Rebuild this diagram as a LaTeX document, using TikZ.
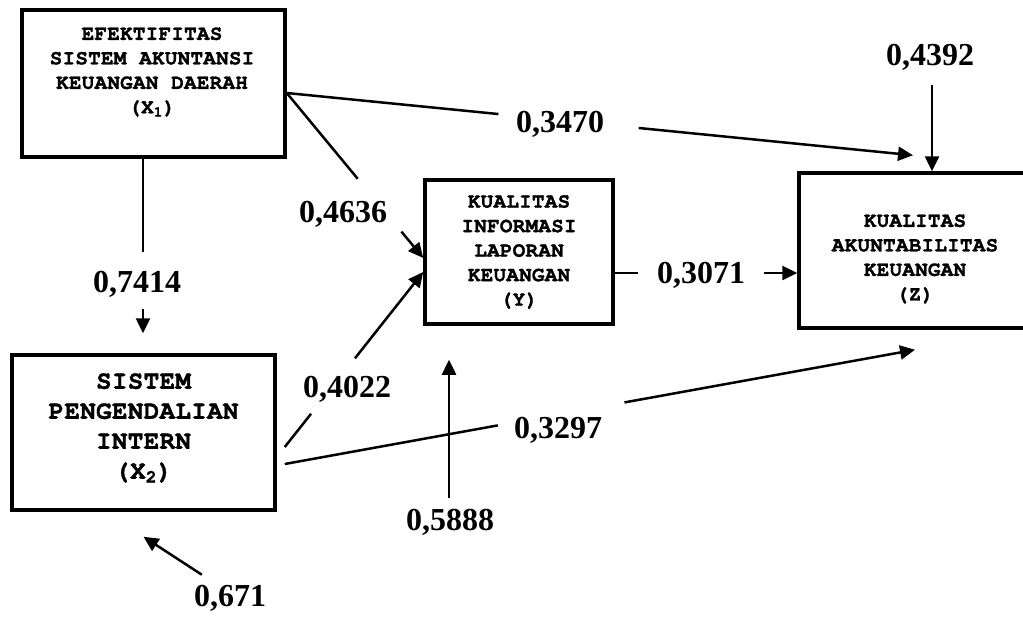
\documentclass[tikz,border=0pt]{standalone}
\usepackage{fontspec}
\setmainfont{Liberation Serif}
\newfontfamily\monobold{TeX Gyre Cursor}[LetterSpace=1,FakeBold=1.2]
\usetikzlibrary{arrows.meta,calc}
\begin{document}
\begin{tikzpicture}[x=1pt,y=-1pt,
  box/.style={draw,line width=3.5pt,inner sep=0pt},
  small/.style={font=\monobold\bfseries\fontsize{21}{24.5}\selectfont,align=center},
  big/.style={font=\monobold\bfseries\fontsize{26}{30}\selectfont,align=center},
  num/.style={font=\bfseries\fontsize{32}{36}\selectfont,inner sep=0pt},
  link/.style={line width=2.5pt},
  arr/.style={line width=2.5pt,-{Triangle[length=15pt,width=14pt]}}]
\useasboundingbox (0,0) rectangle (1023,622);
\node[box,minimum width=263pt,minimum height=147pt] (x1) at (153.5,83.5){};
\node[box,minimum width=263pt,minimum height=155pt] (x2) at (143.5,432.5){};
\node[box,minimum width=188pt,minimum height=144pt] (y) at (519,252){};
\node[box,minimum width=232pt,minimum height=155pt] (z) at (915,250.5){};
\node[small] (x1txt) at (152,72){EFEKTIFITAS\\SISTEM AKUNTANSI\\KEUANGAN DAERAH\\(X\textsubscript{1})};
\node[big] (x2txt) at (143.5,428){SISTEM\\PENGENDALIAN\\INTERN\\(X\textsubscript{2})};
\node[small] (ytxt) at (519,252){KUALITAS\\INFORMASI\\LAPORAN\\KEUANGAN\\(Y)};
\node[small] (ztxt) at (915,259){KUALITAS\\AKUNTABILITAS\\KEUANGAN\\(Z)};
\node[num] (n7414) at (137,284){0,7414};
\node[num] (n4636) at (343,214){0,4636};
\node[num] (n3470) at (560,124){0,3470};
\node[num] (n4392) at (930,57){0,4392};
\node[num] (n3071) at (701,275){0,3071};
\node[num] (n4022) at (347,389){0,4022};
\node[num] (n3297) at (558,430){0,3297};
\node[num] (n5888) at (450,522){0,5888};
\node[num] (n671) at (230,598){0,671};
\coordinate (x1b) at ([xshift=-10.5pt]x1.south);
\coordinate (x2t) at ([xshift=-0.5pt,yshift=20pt]x2.north);
\coordinate (x1r) at ([yshift=-9.5pt]x1.east);
\coordinate (yl1) at ([yshift=-6pt]y.west);
\coordinate (z1) at ([xshift=-2pt,yshift=16pt]z.north);
\coordinate (ztop) at ([xshift=17pt]z.north);
\coordinate (yr) at ([yshift=-21pt]y.east);
\coordinate (zl) at (yr -| z.west);
\coordinate (x2r1) at ([xshift=8pt,yshift=-14.5pt]x2.east);
\coordinate (yl2) at ([yshift=-20pt]y.west);
\coordinate (x2r2) at ([xshift=8pt,yshift=-31.5pt]x2.east);
\coordinate (z2) at ([yshift=-20pt]z.south);
\coordinate (y2) at ([xshift=-70pt,yshift=-34pt]y.south);
\coordinate (x2b) at ([yshift=-25pt]x2.south);
\draw[link] (x1b) -- ($(x1b)!0.534!(x2t)$);
\draw[arr] ($(x1b)!0.86!(x2t)$) -- (x2t);
\draw[link] (x1r) -- ($(x1r)!0.52!(yl1)$);
\draw[arr] ($(x1r)!0.84!(yl1)$) -- (yl1);
\draw[link] (x1r) -- ($(x1r)!0.338!(z1)$);
\draw[arr] ($(x1r)!0.562!(z1)$) -- (z1);
\draw[arr,shorten <=15pt] (n4392.south -| ztop) -- (ztop);
\draw[link] (yr) -- ($(yr)!0.129!(zl)$);
\draw[arr] ($(yr)!0.817!(zl)$) -- (zl);
\draw[link] (x2r1) -- ($(x2r1)!0.19!(yl2)$);
\draw[arr] ($(x2r1)!0.507!(yl2)$) -- (yl2);
\draw[link] (x2r2) -- ($(x2r2)!0.338!(z2)$);
\draw[arr] ($(x2r2)!0.539!(z2)$) -- (z2);
\draw[arr,shorten <=11pt] (n5888.north -| y2) -- (y2);
\draw[arr] ([xshift=8pt,yshift=10pt]n671.north west) -- (x2b);
\end{tikzpicture}
\end{document}
